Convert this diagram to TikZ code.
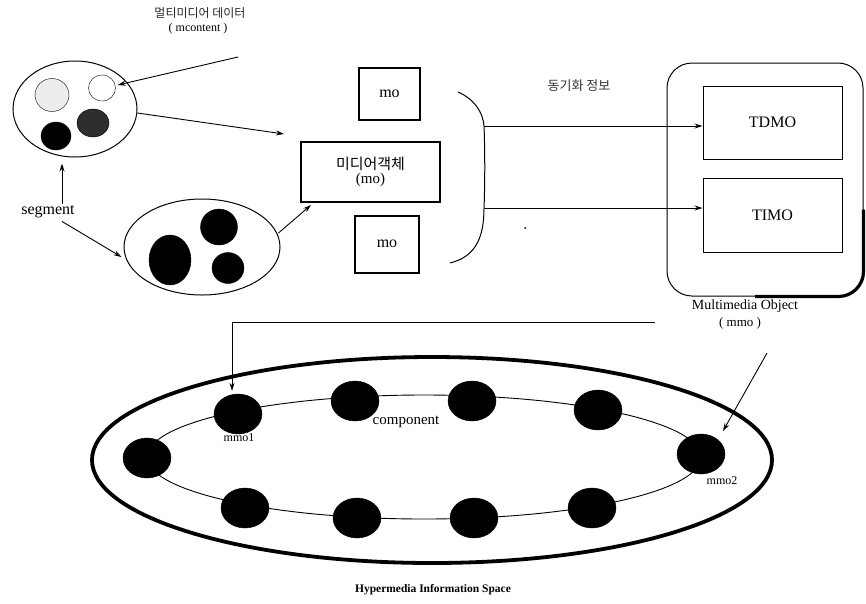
\documentclass[tikz,border=0pt]{standalone}
\usepackage{fontspec}
\setmainfont{Liberation Serif}
\newfontfamily\krfont{Noto Sans CJK KR}
\usetikzlibrary{shapes.geometric,arrows.meta,calc}
\begin{document}
\begin{tikzpicture}[x=1pt,y=-1pt,
  arr/.style={-{Stealth[length=8pt,width=5pt]}, line width=0.9pt},
  thinell/.style={ellipse, draw, line width=1pt, inner sep=0pt},
  blob/.style={ellipse, draw, fill=black, inner sep=0pt},
  mobox/.style={draw, line width=2pt, inner sep=0pt, align=center},
  tbox/.style={draw, line width=1pt, inner sep=0pt, minimum width=139, minimum height=73, font=\fontsize{16}{18}\selectfont},
  kr/.style={font=\krfont\fontsize{#1}{#1}\selectfont},
  lbl/.style={font=\fontsize{#1}{#1}\selectfont, inner sep=1pt}]
\useasboundingbox (0,0) rectangle (866,603);

% top-left texts
\node[kr=12, text=black!85] (mmdata) at (200,13) {멀티미디어 데이터};
\node[lbl=12] (mc) at (198,29) {( mcontent )};

% ellipse 1 with content circles
\node[thinell, minimum width=124, minimum height=96] (e1) at (75,109) {};
\node[ellipse, draw, fill=black!7, inner sep=0pt, minimum width=34, minimum height=33] (c1) at (52,95) {};
\node[ellipse, draw, inner sep=0pt, minimum width=27, minimum height=26] (c2) at (102,88) {};
\node[ellipse, draw, fill=black!82, inner sep=0pt, minimum width=32, minimum height=28] (c3) at (93,123) {};
\node[blob, minimum width=30, minimum height=28] (c4) at (56,136) {};

% ellipse 2 with segments
\node[thinell, minimum width=156, minimum height=96] (e2) at (202,247) {};
\node[blob, minimum width=42, minimum height=50] (b1) at (170,260) {};
\node[blob, minimum width=37, minimum height=36] (b2) at (219,227) {};
\node[blob, minimum width=32, minimum height=31] (b3) at (228,268) {};

\node[lbl=16] (seg) at (48,212) {segment};

% media object boxes
\node[mobox, minimum width=139, minimum height=60] (mo) at (370.5,172)
  {{\krfont\fontsize{15}{17}\selectfont 미디어객체}\\[2pt]{\fontsize{15}{17}\selectfont (mo)}};
\node[mobox, minimum width=61, minimum height=52, font=\fontsize{16}{18}\selectfont] (mot) at (389.5,94) {mo};
\node[mobox, minimum width=64, minimum height=57, font=\fontsize{16}{18}\selectfont] (mob) at (387,244) {mo};

% arrows on the left
\coordinate (mcs) at (238,57);
\draw[arr] (mcs) -- ($(c2.east)+(2,-3)$);
\draw[arr] ($(e1.east)+(0,4)$) -- ($(mo.north west)+(-16,-7)$);
\draw[arr] ($(seg.north)+(14,-1)$) -- ($(e1.south)+(-13,6)$);
\draw[arr] ($(seg.south)+(14,2)$) -- ($(e2.west)+(-2,10)$);
\draw[arr] ($(e2.east)+(-2,-14)$) -- ($(mo.south west)+(11,2)$);

% bracket curve
\coordinate (ct) at (458,92);
\coordinate (a1) at (484,126);
\coordinate (a2) at (484,208);
\coordinate (cb) at (450,263);
\draw[line width=1pt] (ct) .. controls (474,99) and (483,112) .. (a1)
  .. controls (485,150) and (485,185) .. (a2)
  .. controls (484,240) and (474,257) .. (cb);

\node[kr=13, text=black!80] (sync) at (579,86) {동기화 정보};
\fill (525,228) circle (1pt);

% TDMO / TIMO container
\node[draw, line width=1pt, rounded corners=25, minimum width=196, minimum height=233, inner sep=0pt] (tb) at (765,179.5) {};
\draw[line width=3.2pt, rounded corners=25] ($(tb.east)+(0,30)$) -- (tb.south east) -- ($(tb.south)+(-10,0)$);
\node[tbox] (tdmo) at (772.5,122.5) {TDMO};
\node[tbox, minimum height=74] (timo) at (772.5,215) {TIMO};
\draw[arr] (a1) -- (a1 -| tdmo.west);
\draw[arr] (a2) -- (a2 -| timo.west);

% hypermedia space
\node[ellipse, draw, line width=3.8pt, minimum width=680, minimum height=206, inner sep=0pt] (hs) at (432,460) {};
\node[ellipse, draw, line width=0.9pt, minimum width=554, minimum height=124, inner sep=0pt] (inn) at (424,457) {};

\node[blob, minimum width=48, minimum height=40] (m1) at (238,414) {};
\node[blob, minimum width=48, minimum height=40] (m2) at (355,401) {};
\node[blob, minimum width=48, minimum height=40] (m3) at (472,401) {};
\node[blob, minimum width=48, minimum height=40] (m4) at (598,410) {};
\node[blob, minimum width=48, minimum height=40] (m5) at (701,454) {};
\node[blob, minimum width=48, minimum height=40] (m6) at (592,508) {};
\node[blob, minimum width=48, minimum height=40] (m7) at (474,518) {};
\node[blob, minimum width=48, minimum height=40] (m8) at (357,518) {};
\node[blob, minimum width=48, minimum height=40] (m9) at (245,508) {};
\node[blob, minimum width=48, minimum height=40] (m10) at (147,458) {};

\node[lbl=12] (l1) at (239,438) {mmo1};
\node[lbl=12] (l2) at (722,481) {mmo2};
\node[lbl=15] (comp) at (406,422) {component};

\node[lbl=14] (mmobj) at (745,306) {Multimedia Object};
\node[lbl=13] (mmo) at (740,323) {( mmo )};
\coordinate (hl) at (655,322);
\draw[arr] (hl) -- (hl -| 232,0) -- ($(m1.north)+(-6,-3)$);
\coordinate (dg) at (767,353);
\draw[arr] (dg) -- (723,431);

\node[font=\bfseries\fontsize{11.5}{13}\selectfont] (title) at (433,590) {Hypermedia Information Space};
\end{tikzpicture}
\end{document}
